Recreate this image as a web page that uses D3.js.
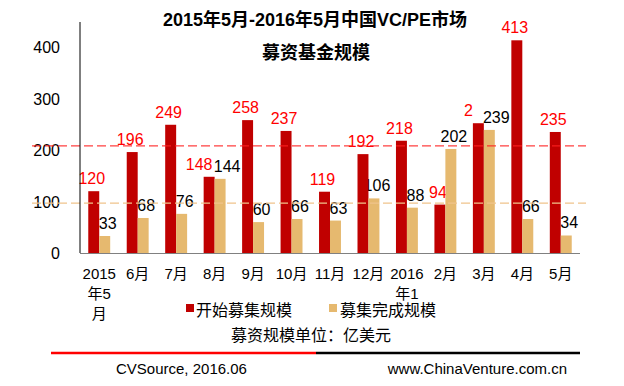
<!DOCTYPE html>
<html>
<head>
<meta charset="utf-8">
<title>募资基金规模</title>
<script src="https://d3js.org/d3.v7.min.js"></script>
<style>
  body { margin: 0; background: #fff; }
  text { font-family: "Liberation Sans", Arial, "Noto Sans CJK SC", sans-serif; }
</style>
</head>
<body>
<div id="chart"></div>
<script>

var months = ["2015年5月", "6月", "7月", "8月", "9月", "10月", "11月", "12月", "2016年1月", "2月", "3月", "4月", "5月"];
var monthLines = [["2015", "年5", "月"], ["6月"], ["7月"], ["8月"], ["9月"], ["10月"], ["11月"], ["12月"], ["2016", "年1"], ["2月"], ["3月"], ["4月"], ["5月"]];
var startValues = [120, 196, 249, 148, 258, 237, 119, 192, 218, 94, 252, 413, 235];
var startLabels = ["120", "196", "249", "148", "258", "237", "119", "192", "218", "94", "2", "413", "235"];
var doneValues = [33, 68, 76, 144, 60, 66, 63, 106, 88, 202, 239, 66, 34];
var yTicks = [0, 100, 200, 300, 400];
var startAvg = 208;
var doneAvg = 97;

var width = 624;
var height = 386;

var svg = d3.select("#chart")
	.append("svg")
		.attr("width", width)
		.attr("height", height);

var x = d3.scaleBand()
	.domain(months)
	.range([80, 580])
	.paddingInner(0.43)
	.paddingOuter(0.215);

var y = d3.scaleLinear()
	.domain([0, 400])
	.range([253, 47]);

var half = x.bandwidth() / 2;

// labels that sit at nearly the same height get pushed apart
function close(i) {
	return Math.abs(y(startValues[i]) - y(doneValues[i])) < 12;
}

// title
svg.append("text")
	.attr("x", 315).attr("y", 26)
	.attr("text-anchor", "middle")
	.style("font-size", "18px").style("font-weight", "bold")
	.text("2015年5月-2016年5月中国VC/PE市场");
svg.append("text")
	.attr("x", 316).attr("y", 59)
	.attr("text-anchor", "middle")
	.style("font-size", "18px").style("font-weight", "bold")
	.text("募资基金规模");

// y labels
svg.selectAll("ylab")
	.data(yTicks)
	.enter()
	.append("text")
		.attr("x", 60)
		.attr("y", function(d) { return y(d) + 6; })
		.attr("text-anchor", "end")
		.style("font-size", "16px")
		.text(function(d) { return d; });

// value labels (drawn under bars)
svg.selectAll("dlab")
	.data(doneValues)
	.enter()
	.append("text")
		.attr("x", function(d, i) { return x(months[i]) + half * 1.5 + (close(i) ? 7 : 3); })
		.attr("y", function(d) { return y(d) - 7; })
		.attr("text-anchor", "middle")
		.style("font-size", "16px")
		.style("fill", "#000")
		.text(function(d) { return d; });

svg.selectAll("slab")
	.data(startValues)
	.enter()
	.append("text")
		.attr("x", function(d, i) { return x(months[i]) + half / 2 + (close(i) ? -10 : -2); })
		.attr("y", function(d) { return y(d) - 7; })
		.attr("text-anchor", "middle")
		.style("font-size", "16px")
		.style("fill", "#ff0000")
		.text(function(d, i) { return startLabels[i]; });

// bars
svg.selectAll("sbar")
	.data(startValues)
	.enter()
	.append("rect")
		.attr("x", function(d, i) { return x(months[i]); })
		.attr("width", half)
		.attr("y", function(d) { return y(d); })
		.attr("height", function(d) { return y(0) - y(d); })
		.attr("fill", "#c00000");

svg.selectAll("dbar")
	.data(doneValues)
	.enter()
	.append("rect")
		.attr("x", function(d, i) { return x(months[i]) + half; })
		.attr("width", half)
		.attr("y", function(d) { return y(d); })
		.attr("height", function(d) { return y(0) - y(d); })
		.attr("fill", "#e6b96f");

// average lines
svg.append("line")
	.attr("x1", 32).attr("x2", 586)
	.attr("y1", y(startAvg)).attr("y2", y(startAvg))
	.style("stroke", "#ff2020").style("stroke-width", 1.2)
	.style("stroke-dasharray", "9,4")
	.style("opacity", 0.85);
svg.append("line")
	.attr("x1", 32).attr("x2", 586)
	.attr("y1", y(doneAvg)).attr("y2", y(doneAvg))
	.style("stroke", "#f0c48c").style("stroke-width", 1.2)
	.style("stroke-dasharray", "9,4");

// axes
svg.append("line")
	.attr("x1", 80).attr("x2", 80)
	.attr("y1", 22).attr("y2", y(0))
	.style("stroke", "#000").style("stroke-width", 1);
svg.append("line")
	.attr("x1", 80).attr("x2", 580)
	.attr("y1", y(0) + 0.5).attr("y2", y(0) + 0.5)
	.style("stroke", "#808080").style("stroke-width", 1);

// category labels
var cat = svg.selectAll("cat")
	.data(months)
	.enter()
	.append("text")
		.attr("text-anchor", "middle")
		.style("font-size", "15px")
		.attr("transform", function(d) { return "translate(" + (x(d) + half) + ",0)"; });

cat.selectAll("tspan")
	.data(function(d, i) { return monthLines[i]; })
	.enter()
	.append("tspan")
		.attr("x", 0)
		.attr("y", function(d, j) { return 279 + j * 20; })
		.text(function(d) { return d; });

// legend
var legend = svg.append("g");
legend.append("rect")
	.attr("x", 186).attr("y", 304).attr("width", 8).attr("height", 8)
	.attr("fill", "#c00000");
legend.append("text")
	.attr("x", 196).attr("y", 316)
	.style("font-size", "16px")
	.text("开始募集规模");
legend.append("rect")
	.attr("x", 329).attr("y", 304).attr("width", 8).attr("height", 8)
	.attr("fill", "#e6b96f");
legend.append("text")
	.attr("x", 340).attr("y", 316)
	.style("font-size", "16px")
	.text("募集完成规模");

svg.append("text")
	.attr("x", 311).attr("y", 341)
	.attr("text-anchor", "middle")
	.style("font-size", "16px")
	.text("募资规模单位：亿美元");

// footer
svg.append("line")
	.attr("x1", 51).attr("x2", 316)
	.attr("y1", 353).attr("y2", 353)
	.style("stroke", "#ff0000").style("stroke-width", 2.5);
svg.append("line")
	.attr("x1", 316).attr("x2", 580)
	.attr("y1", 353).attr("y2", 353)
	.style("stroke", "#000").style("stroke-width", 2.5);

svg.append("text")
	.attr("x", 116).attr("y", 374)
	.style("font-size", "15px")
	.text("CVSource, 2016.06");
svg.append("text")
	.attr("x", 567).attr("y", 374)
	.attr("text-anchor", "end")
	.style("font-size", "15px")
	.text("www.ChinaVenture.com.cn");

</script>
</body>
</html>
